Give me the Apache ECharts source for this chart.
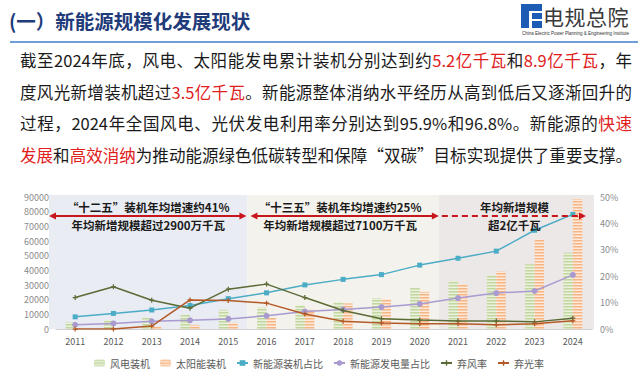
<!DOCTYPE html>
<html><head><meta charset="utf-8">
<script src="https://cdn.jsdelivr.net/npm/echarts@6/dist/echarts.min.js"></script>
<style>
html,body{margin:0;padding:0;width:638px;height:374px;overflow:hidden;background:#fff;font-family:"Noto Sans CJK SC","Noto Sans",sans-serif;}
#chart{position:absolute;left:0;top:0;width:638px;height:374px;}
#title{position:absolute;left:9px;top:6px;font-size:19.5px;font-weight:bold;color:#1f3b7a;white-space:nowrap;z-index:2;}
#hline{position:absolute;left:10px;right:0;top:41px;height:2px;background:#6f9fd6;z-index:2;}
#para{position:absolute;left:20px;top:45px;width:612px;font-size:16.5px;line-height:31.5px;color:#1a1a1a;z-index:2;}
#para div{text-align:justify;text-align-last:justify;white-space:nowrap;}
.r{color:#e0201b;}
.lg{position:absolute;background:#1d5cb5;z-index:2;}
#logoTxt{position:absolute;left:543px;top:5px;font-size:21px;line-height:22px;color:#3a3a3a;z-index:2;white-space:nowrap;letter-spacing:0.5px;}
#logoSub{position:absolute;left:522px;top:31px;font-size:9px;line-height:10px;color:#333;transform:scale(0.5);transform-origin:0 0;white-space:nowrap;z-index:2;font-family:"Liberation Sans",sans-serif;}
</style>
</head><body>
<div id="chart"></div>
<div id="title">(一）新能源规模化发展现状</div>
<div class="lg" style="left:521px;top:4px;width:8px;height:24px;"></div>
<div class="lg" style="left:521px;top:4px;width:21px;height:7px;"></div>
<div class="lg" style="left:532px;top:13px;width:10px;height:15px;"></div>
<div class="lg" style="left:532px;top:19px;width:10px;height:2px;background:#fff;"></div>
<div id="logoTxt">电规总院</div>
<div id="logoSub">China Electric Power Planning &amp; Engineering Institute</div>
<div id="hline"></div>
<div id="para">
<div>截至2024年底，风电、太阳能发电累计装机分别达到约<span class="r">5.2亿千瓦</span>和<span class="r">8.9亿千瓦</span>，年</div>
<div>度风光新增装机超过<span class="r">3.5亿千瓦</span>。新能源整体消纳水平经历从高到低后又逐渐回升的</div>
<div>过程，2024年全国风电、光伏发电利用率分别达到95.9%和96.8%。新能源的<span class="r">快速</span></div>
<div><span class="r">发展</span>和<span class="r">高效消纳</span>为推动能源绿色低碳转型和保障“双碳”目标实现提供了重要支撑。</div>
</div>
<script>
const years = ['2011','2012','2013','2014','2015','2016','2017','2018','2019','2020','2021','2022','2023','2024'];
const windCap  = [4623, 6142, 7652, 9657, 13075, 14747, 16367, 18426, 21005, 28153, 32848, 36544, 44134, 52068];
const solarCap = [212, 341, 1589, 2805, 4318, 7742, 13025, 17446, 20468, 25343, 30656, 39261, 60949, 88666];
const reCapShare = [4.6, 5.9, 7.2, 8.9, 11.5, 13.7, 16.7, 18.8, 20.6, 24.2, 26.8, 29.5, 37.4, 43.4];
const reGenShare = [1.6, 2.1, 2.9, 3.3, 3.8, 5.0, 6.6, 7.4, 8.3, 9.5, 11.7, 13.6, 14.4, 20.5];
const windCurt  = [11.9, 16.0, 10.9, 7.9, 15.1, 17.0, 11.9, 7.0, 3.9, 3.4, 3.0, 3.0, 2.7, 4.1];
const solarCurt = [0, 0, 1.1, 11.0, 10.8, 9.8, 5.7, 2.9, 2.3, 2.0, 2.0, 1.6, 2.0, 3.1];
const leftTicks = [0, 90000, 10000];
const rightTicks = [0, 50, 10];
const names = ['风电装机','太阳能装机','新能源装机占比','新能源发电量占比','弃风率','弃光率'];
const notes = [
  ['“十二五”装机年均增速约41%', '年均新增规模超过2900万千瓦'],
  ['“十三五”装机年均增速约25%', '年均新增规模超过7100万千瓦'],
  ['年均新增规模', '超2亿千瓦']
];

const FONT = '"Noto Sans CJK SC","Noto Sans",sans-serif';
const plus = 'path://M3,0H5V3H8V5H5V8H3V5H0V3H3Z';
function stripe(base, line){
  const c = document.createElement('canvas'); c.width = 4; c.height = 3;
  const g = c.getContext('2d');
  g.fillStyle = base; g.fillRect(0,0,4,3);
  g.fillStyle = line; g.fillRect(0,0,4,1.5);
  return {image:c, repeat:'repeat'};
}

const chart = echarts.init(document.getElementById('chart'), null, {renderer:'svg'});
const option = {
  animation:false,
  backgroundColor:'transparent',
  textStyle:{fontFamily:FONT},
  grid:{left:56, right:46, top:197, bottom:45},
  legend:{
    data:names, left:'center', top:353, itemWidth:11, itemHeight:7, itemGap:10,
    textStyle:{fontSize:10, color:'#595959', fontFamily:FONT}
  },
  xAxis:{
    type:'category', data:years,
    axisLine:{lineStyle:{color:'#d0d0d0'}}, axisTick:{show:false},
    axisLabel:{color:'#595959', fontSize:9, margin:8}
  },
  yAxis:[
    {type:'value', min:leftTicks[0], max:leftTicks[1], interval:leftTicks[2],
     splitLine:{show:false}, axisLine:{show:false}, axisTick:{show:false},
     axisLabel:{color:'#8c8c8c', fontSize:9, margin:7, formatter:v => String(v)}},
    {type:'value', min:rightTicks[0], max:rightTicks[1], interval:rightTicks[2], position:'right',
     splitLine:{show:false}, axisLine:{show:false}, axisTick:{show:false},
     axisLabel:{color:'#8c8c8c', fontSize:9, margin:8, formatter:'{value}%'}}
  ],
  series:[
    {name:names[0], type:'bar', data:windCap, barWidth:9.5, barGap:'0%',
     itemStyle:{color:stripe('#eaf1dc', '#c2d6a0')}},
    {name:names[1], type:'bar', data:solarCap, barWidth:9.5,
     itemStyle:{color:stripe('#fde9da', '#f6b584')}},
    {name:names[2], type:'line', yAxisIndex:1, data:reCapShare, symbol:'rect', symbolSize:5,
     lineStyle:{width:1.5, color:'#4bacc6'}, itemStyle:{color:'#4bacc6'}, z:5},
    {name:names[3], type:'line', yAxisIndex:1, data:reGenShare, symbol:'circle', symbolSize:6,
     lineStyle:{width:1.5, color:'#a99bd0'}, itemStyle:{color:'#a99bd0'}, z:5},
    {name:names[4], type:'line', yAxisIndex:1, data:windCurt, symbol:plus, symbolSize:5,
     lineStyle:{width:1.5, color:'#5b6b36'}, itemStyle:{color:'#5b6b36'}, z:6},
    {name:names[5], type:'line', yAxisIndex:1, data:solarCurt, symbol:plus, symbolSize:5,
     lineStyle:{width:1.5, color:'#b45a28'}, itemStyle:{color:'#b45a28'}, z:6}
  ]
};
chart.setOption(option);

const xAt = i => chart.convertToPixel({xAxisIndex:0}, years[i]);
const band = xAt(1) - xAt(0);
const leftEdge = xAt(0) - band/2;
const edge = i => xAt(i) + band/2;
const yBot = chart.convertToPixel({yAxisIndex:0}, 0);
const yTop = chart.convertToPixel({yAxisIndex:0}, 90000) - 2;
const bounds = [[leftEdge - 7, edge(4)], [edge(4), edge(9)], [edge(9), edge(13) + 2]];
const fills = ['#e9ecf3', '#f4f2ec', '#ede8e8'];
const els = [];
bounds.forEach((b, k) => {
  els.push({type:'rect', z:-10, shape:{x:b[0], y:yTop, width:b[1]-b[0], height:yBot-yTop}, style:{fill:fills[k]}});
});
const ay = yTop + 21;
const red = '#c8161d';
function head(x, y, dir){ const L=7, H=3.5; return {type:'polygon', z:20, shape:{points:[[x,y],[x-dir*L,y-H],[x-dir*L,y+H]]}, style:{fill:red}}; }
[[bounds[0][0], bounds[0][1]-1], [bounds[1][0]+3, bounds[1][1]]].forEach(a => {
  els.push({type:'line', z:20, shape:{x1:a[0]+4, y1:ay, x2:a[1]-4, y2:ay}, style:{stroke:red, lineWidth:2}});
  els.push(head(a[0], ay, -1));
  els.push(head(a[1], ay, 1));
});
const d0 = bounds[2][0] + 3, d1 = bounds[2][1] - 8;
els.push({type:'line', z:20, shape:{x1:d0, y1:ay, x2:d1-4, y2:ay}, style:{stroke:red, lineWidth:2, lineDash:[6,4]}});
els.push(head(d1, ay, 1));
const cx = [ (bounds[0][0]+bounds[0][1])/2, (bounds[1][0]+bounds[1][1])/2 - 3, (bounds[2][0]+bounds[2][1])/2 - 2 ];
notes.forEach((n, k) => {
  els.push({type:'text', z:21, style:{text:n[0], x:cx[k], y:ay-9.5, align:'center', verticalAlign:'middle', font:'bold 11.5px '+FONT, fill:'#1a1a1a'}});
  els.push({type:'text', z:21, style:{text:n[1], x:cx[k], y:ay+9, align:'center', verticalAlign:'middle', font:'bold 11.5px '+FONT, fill:'#1a1a1a'}});
});
chart.setOption({graphic:{elements:els}});
</script>
</body></html>
